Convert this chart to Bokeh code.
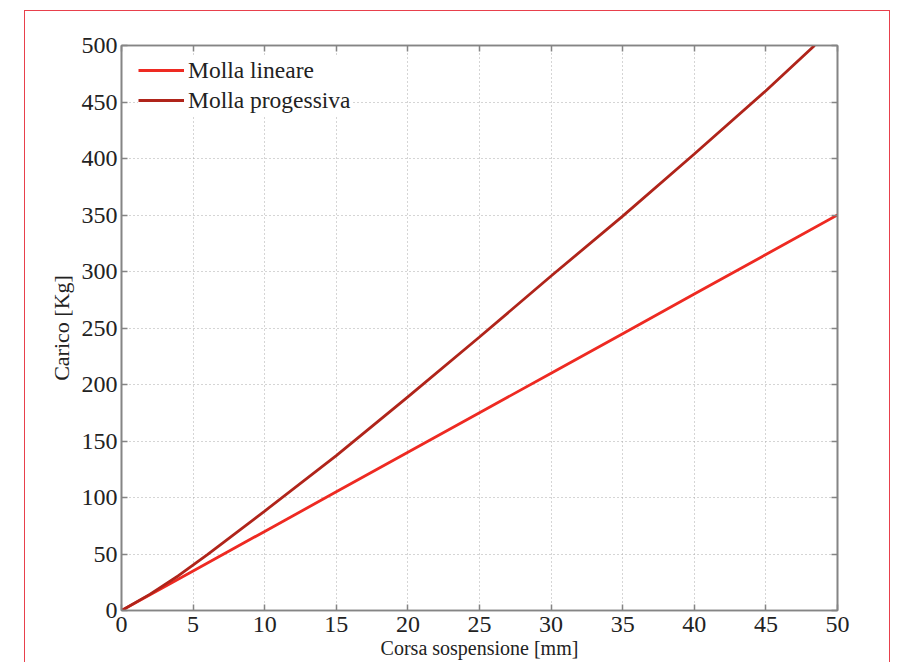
from bokeh.plotting import figure
from bokeh.models import (Range1d, FixedTicker, LinearAxis, Legend,
                          LegendItem, CustomJSTickFormatter)
from bokeh.embed import file_html
from bokeh.resources import INLINE

# ---- data ----
corsa_lineare = [0, 5, 10, 15, 20, 25, 30, 35, 40, 45, 50]
carico_lineare = [0, 35, 70, 105, 140, 175, 210, 245, 280, 315, 350]
corsa_progressiva = [0, 2, 4, 6, 10, 15, 20, 25, 30, 35, 40, 45, 48.4]
carico_progressiva = [0, 14.5, 31, 49.5, 88, 137, 189, 242, 296, 349, 404, 460, 500]
x_ticks = [0, 5, 10, 15, 20, 25, 30, 35, 40, 45, 50]
y_ticks = [0, 50, 100, 150, 200, 250, 300, 350, 400, 450, 500]
label_lineare = "Molla lineare"
label_progressiva = "Molla progessiva"
x_title = "Corsa sospensione [mm]"
y_title = "Carico [Kg]"

FONT = "Liberation Serif"
AXIS_COLOR = "#858585"
TEXT_COLOR = "#222222"
FRAME_RED = "#e8404c"

p = figure(output_backend="svg", toolbar_location=None,
           width=864, height=651,
           min_border_left=96, min_border_right=52,
           min_border_top=34, min_border_bottom=52,
           x_range=Range1d(0, 50), y_range=Range1d(0, 500),
           background_fill_color="white", border_fill_color="white")
p.margin = (11, 0, 0, 25)
p.styles = {"outline": "1.5px solid " + FRAME_RED, "outline-offset": "0px"}
p.outline_line_color = AXIS_COLOR
p.outline_line_width = 1.6

# grid
for g in (p.xgrid[0], p.ygrid[0]):
    g.grid_line_color = "#aaaaaa"
    g.grid_line_dash = "1 3"
    g.grid_line_width = 1
p.xgrid[0].ticker = FixedTicker(ticks=x_ticks)
p.ygrid[0].ticker = FixedTicker(ticks=y_ticks)

def style_axis(ax, ticks, labels=True):
    ax.ticker = FixedTicker(ticks=ticks)
    ax.axis_line_color = AXIS_COLOR
    ax.axis_line_width = 1.6
    ax.major_tick_line_color = AXIS_COLOR
    ax.major_tick_line_width = 1.5
    ax.major_tick_in = 6
    ax.major_tick_out = 0
    ax.minor_tick_line_color = None
    ax.major_label_text_font = FONT
    ax.major_label_text_font_size = "24px"
    ax.major_label_text_color = TEXT_COLOR
    ax.axis_label_text_font = FONT
    ax.axis_label_text_font_style = "normal"
    ax.axis_label_text_color = TEXT_COLOR
    if not labels:
        ax.formatter = CustomJSTickFormatter(code="return ''")
        ax.major_label_text_font_size = "0px"

xa = p.xaxis[0]
ya = p.yaxis[0]
style_axis(xa, x_ticks)
style_axis(ya, y_ticks)
xa.major_label_standoff = 6
ya.major_label_standoff = 4
xa.axis_label = x_title
ya.axis_label = y_title
xa.axis_label_text_font_size = "20px"
ya.axis_label_text_font_size = "22px"
xa.axis_label_standoff = 2
ya.axis_label_standoff = 5

top = LinearAxis()
style_axis(top, x_ticks, labels=False)
p.add_layout(top, "above")
right = LinearAxis()
style_axis(right, y_ticks, labels=False)
p.add_layout(right, "right")

r_lin = p.line(corsa_lineare, carico_lineare, line_color="#ee2a22", line_width=2.8)
r_prog = p.line(corsa_progressiva, carico_progressiva, line_color="#b0241a", line_width=2.8)

legend = Legend(items=[LegendItem(label=label_lineare, renderers=[r_lin]),
                       LegendItem(label=label_progressiva, renderers=[r_prog])],
                location=(17, 495))
legend.label_text_font = FONT
legend.label_text_font_size = "23.5px"
legend.label_text_color = TEXT_COLOR
legend.glyph_width = 46
legend.glyph_height = 30
legend.label_height = 30
legend.label_standoff = 4
legend.spacing = 0
legend.padding = 0
legend.margin = 0
legend.border_line_color = None
legend.background_fill_color = "white"
legend.background_fill_alpha = 1
p.add_layout(legend)

open("out.html", "w").write(file_html(p, INLINE))
